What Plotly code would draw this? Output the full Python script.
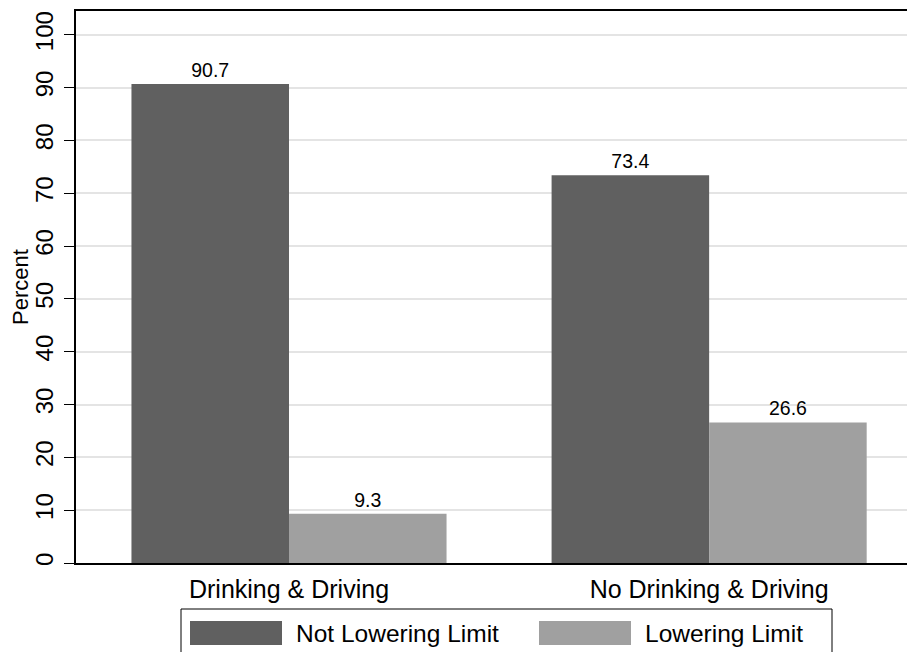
import plotly.graph_objects as go

categories = ["Drinking &amp; Driving", "No Drinking &amp; Driving"]
series_names = ["Not Lowering Limit", "Lowering Limit"]
not_lowering = [90.7, 73.4]
lowering = [9.3, 26.6]
colors = ["#606060", "#a0a0a0"]
y_ticks = list(range(0, 101, 10))

# page has an 8px body margin; compensate so the plot lands where the reference has it
OFF = 8
W, H = 915 - OFF, 652 - OFF
ML, MR, MT, MB = 76 - OFF, 0, 11 - OFF, 89
PLOT_L, PLOT_B = 76, 563
PW, PH = W - ML - MR, H - MT - MB

def px_x(x):
    return (x - PLOT_L) / PW

def px_y(y):
    return (PLOT_B - y) / PH

FONT = "Liberation Sans"

fig = go.Figure()
for name, vals, col in zip(series_names, [not_lowering, lowering], colors):
    fig.add_trace(go.Bar(
        x=categories, y=vals, name=name, marker=dict(color=col, line=dict(width=0)),
        text=[f"{v:.1f}" for v in vals], textposition="outside",
        textfont=dict(size=19.5, color="black", family=FONT),
        cliponaxis=False, showlegend=False,
    ))

# Stata-style legend box drawn below the plot
shapes = [dict(type="rect", xref="paper", yref="paper",
               x0=px_x(181), x1=px_x(832), y0=px_y(609), y1=px_y(670),
               line=dict(color="black", width=1), fillcolor="white", layer="above")]
annotations = []
for i, (name, col) in enumerate(zip(series_names, colors)):
    sx = 190 + i * 349
    shapes.append(dict(type="rect", xref="paper", yref="paper",
                       x0=px_x(sx), x1=px_x(sx + 92), y0=px_y(621), y1=px_y(645),
                       line=dict(width=0), fillcolor=col, layer="above"))
    annotations.append(dict(xref="paper", yref="paper", x=px_x(sx + 104), y=px_y(633),
                            text=name, showarrow=False, xanchor="left", yanchor="middle",
                            font=dict(size=24.5, color="black", family=FONT)))

fig.update_layout(
    width=W, height=H,
    margin=dict(l=ML, r=MR, t=MT, b=MB),
    paper_bgcolor="white", plot_bgcolor="white",
    barmode="group", bargap=0.25, bargroupgap=0,
    font=dict(family=FONT, color="black"),
    shapes=shapes, annotations=annotations,
    xaxis=dict(range=[-0.507, 1.49], showline=True, linecolor="black", linewidth=1.5,
               mirror=True, ticks="", showgrid=False, tickfont=dict(size=25),
               ticklabelstandoff=3),
    yaxis=dict(range=[0, 104.5], tickvals=y_ticks, showline=True, linecolor="black",
               linewidth=1.5, ticks="outside", ticklen=10, tickcolor="black",
               tickangle=-90, tickfont=dict(size=24), ticklabelstandoff=2,
               showgrid=True, gridcolor="#e4e4e4", gridwidth=2, zeroline=False,
               title=dict(text="Percent", font=dict(size=22), standoff=6)),
)

fig.write_html("out.html")
